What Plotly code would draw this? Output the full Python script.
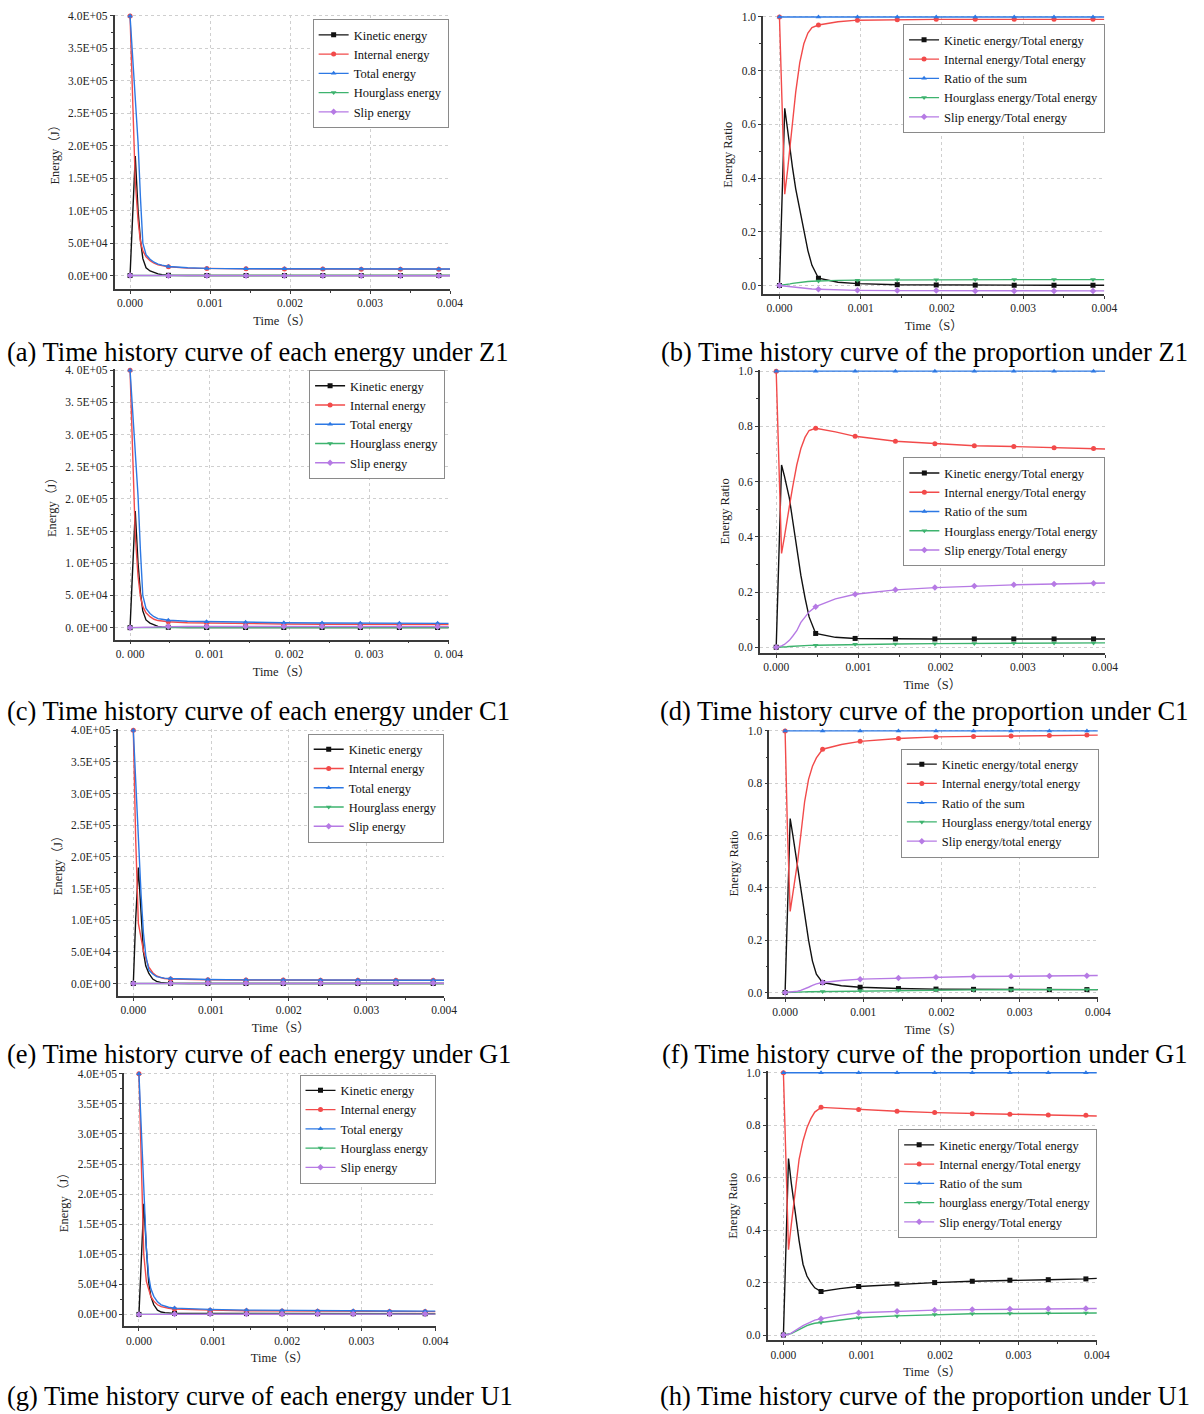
import plotly.graph_objects as go

W, H = 1204, 1414

# ---------------- data ----------------
time_s = [0, 0.00003, 0.000065, 0.0001, 0.00013, 0.00016, 0.0002, 0.00025, 0.0003, 0.00035,
          0.0004, 0.00048, 0.00072, 0.00096, 0.00145, 0.00193, 0.00241, 0.00289, 0.00338,
          0.00386, 0.004]
marker_idx = [0, 11, 13, 14, 15, 16, 17, 18, 19]

x_ticks = [0, 0.001, 0.002, 0.003, 0.004]
x_labels = ["0.000", "0.001", "0.002", "0.003", "0.004"]
x_labels_sp = ["0. 000", "0. 001", "0. 002", "0. 003", "0. 004"]
e_ticks = [0, 5e4, 1e5, 1.5e5, 2e5, 2.5e5, 3e5, 3.5e5, 4e5]
e_labels = ["0.0E+00", "5.0E+04", "1.0E+05", "1.5E+05", "2.0E+05", "2.5E+05", "3.0E+05", "3.5E+05", "4.0E+05"]
e_labels_sp = ["0. 0E+00", "5. 0E+04", "1. 0E+05", "1. 5E+05", "2. 0E+05", "2. 5E+05", "3. 0E+05", "3. 5E+05", "4. 0E+05"]
r_ticks = [0, 0.2, 0.4, 0.6, 0.8, 1.0]
r_labels = ["0.0", "0.2", "0.4", "0.6", "0.8", "1.0"]

energy_names = ["Kinetic energy", "Internal energy", "Total energy", "Hourglass energy", "Slip energy"]
ratio_names_b = ["Kinetic energy/Total energy", "Internal energy/Total energy", "Ratio of the sum",
                 "Hourglass energy/Total energy", "Slip energy/Total energy"]
ratio_names_f = ["Kinetic energy/total energy", "Internal energy/total energy", "Ratio of the sum",
                 "Hourglass energy/total energy", "Slip energy/total energy"]
ratio_names_h = ["Kinetic energy/Total energy", "Internal energy/Total energy", "Ratio of the sum",
                 "hourglass energy/Total energy", "Slip energy/Total energy"]

# (a) Z1 energy
z1_kinetic = [0, 8.5e4, 1.84e5, 1.0e5, 5.5e4, 2.6e4, 1.2e4, 7e3, 4.5e3, 2.5e3, 1.2e3, 400, 150, 80, 40, 20, 15, 10, 10, 10, 10]
z1_internal = [4e5, 2.65e5, 1.45e5, 8.5e4, 5.2e4, 3.8e4, 2.9e4, 2.3e4, 1.9e4, 1.65e4, 1.5e4, 1.35e4, 1.15e4, 1.08e4, 1.03e4, 1.01e4, 1.0e4, 9.9e3, 9.9e3, 9.9e3, 9.9e3]
z1_total = [4e5, 3.4e5, 2.7e5, 2.05e5, 1.2e5, 5e4, 3.2e4, 2.5e4, 2.05e4, 1.75e4, 1.6e4, 1.4e4, 1.2e4, 1.1e4, 1.05e4, 1.03e4, 1.02e4, 1.01e4, 1.0e4, 1.0e4, 1.0e4]
z1_hourglass = [0, 0, 0, 5, 10, 20, 35, 60, 90, 120, 150, 200, 210, 215, 220, 220, 220, 225, 225, 225, 225]
z1_slip = [0, 0, 0, -5, -10, -20, -35, -60, -90, -110, -130, -150, -170, -180, -190, -190, -195, -195, -200, -200, -200]

# (b) Z1 ratio
z1_r_kinetic = [0, 0.3, 0.66, 0.58, 0.5, 0.44, 0.36, 0.28, 0.2, 0.13, 0.075, 0.027, 0.012, 0.007, 0.003, 0.002, 0.0015, 0.001, 0.001, 0.001, 0.001]
z1_r_internal = [1.0, 0.68, 0.34, 0.43, 0.52, 0.6, 0.72, 0.83, 0.9, 0.94, 0.96, 0.97, 0.982, 0.988, 0.99, 0.991, 0.991, 0.991, 0.991, 0.991, 0.991]
z1_r_sum = [1.0] * 21
z1_r_hourglass = [0, 0.001, 0.002, 0.004, 0.006, 0.008, 0.01, 0.012, 0.014, 0.015, 0.016, 0.017, 0.019, 0.02, 0.021, 0.021, 0.022, 0.022, 0.022, 0.022, 0.022]
z1_r_slip = [0, -0.001, -0.002, -0.003, -0.004, -0.005, -0.007, -0.009, -0.011, -0.012, -0.013, -0.014, -0.016, -0.018, -0.019, -0.019, -0.02, -0.02, -0.02, -0.02, -0.02]

# (c) C1 energy
c1_kinetic = [0, 8.5e4, 1.81e5, 1.0e5, 5.5e4, 2.6e4, 1.2e4, 7e3, 4e3, 2e3, 1e3, 550, 300, 280, 240, 220, 210, 200, 200, 200, 200]
c1_internal = [4e5, 2.65e5, 1.45e5, 8e4, 4.8e4, 3.3e4, 2.3e4, 1.7e4, 1.3e4, 1.1e4, 1.0e4, 9.1e3, 7.6e3, 7.1e3, 6.1e3, 5.6e3, 5.3e3, 5.1e3, 4.9e3, 4.8e3, 4.7e3]
c1_total = [4e5, 3.4e5, 2.7e5, 2.05e5, 1.2e5, 5e4, 3e4, 2.2e4, 1.7e4, 1.4e4, 1.3e4, 1.15e4, 1.0e4, 9.3e3, 8.2e3, 7.6e3, 7.2e3, 7.0e3, 6.8e3, 6.7e3, 6.6e3]
c1_hourglass = [0, 0, 0, 0, 5, 10, 15, 25, 35, 45, 55, 80, 95, 105, 110, 115, 115, 115, 115, 115, 115]
c1_slip = [0, 0, 0, 10, 50, 150, 300, 600, 900, 1200, 1400, 1700, 1750, 1800, 1700, 1650, 1600, 1580, 1560, 1550, 1540]

# (d) C1 ratio
c1_r_kinetic = [0, 0.3, 0.66, 0.62, 0.58, 0.54, 0.46, 0.36, 0.26, 0.18, 0.11, 0.05, 0.036, 0.032, 0.03, 0.03, 0.03, 0.03, 0.03, 0.03, 0.03]
c1_r_internal = [1.0, 0.67, 0.34, 0.4, 0.46, 0.51, 0.58, 0.66, 0.72, 0.76, 0.785, 0.793, 0.78, 0.764, 0.746, 0.737, 0.73, 0.727, 0.723, 0.72, 0.718]
c1_r_sum = [1.0] * 21
c1_r_hourglass = [0, 0, 0.0005, 0.001, 0.002, 0.003, 0.004, 0.005, 0.006, 0.0065, 0.007, 0.0075, 0.009, 0.011, 0.012, 0.013, 0.014, 0.0145, 0.015, 0.0155, 0.016]
c1_r_slip = [0, 0.002, 0.005, 0.01, 0.016, 0.025, 0.04, 0.06, 0.09, 0.11, 0.128, 0.147, 0.175, 0.192, 0.208, 0.216, 0.222, 0.226, 0.229, 0.232, 0.233]

# (e) G1 energy
g1_kinetic = [0, 1.0e5, 1.83e5, 1.0e5, 5e4, 2.8e4, 1.6e4, 7e3, 3.5e3, 1.8e3, 900, 280, 150, 110, 80, 70, 65, 60, 55, 55, 55]
g1_internal = [4e5, 2.3e5, 9.5e4, 6.8e4, 5.2e4, 4e4, 2.6e4, 1.7e4, 1.2e4, 9.5e3, 8e3, 7e3, 6.3e3, 6e3, 5.65e3, 5.45e3, 5.35e3, 5.28e3, 5.2e3, 5.15e3, 5.1e3]
g1_total = [4e5, 3.2e5, 2.35e5, 1.4e5, 8e4, 4.5e4, 2.1e4, 1.5e4, 1.1e4, 9.5e3, 8.5e3, 7.9e3, 6.9e3, 6.3e3, 5.8e3, 5.6e3, 5.5e3, 5.4e3, 5.3e3, 5.25e3, 5.2e3]
g1_hourglass = [0, 0, 0, 0, 5, 10, 15, 20, 25, 28, 30, 32, 38, 44, 50, 53, 55, 57, 58, 58, 58]
g1_slip = [0, 0, 0, 10, 20, 40, 80, 150, 220, 260, 280, 300, 310, 320, 320, 325, 330, 335, 335, 338, 340]

# (f) G1 ratio
g1_r_kinetic = [0, 0.33, 0.665, 0.6, 0.54, 0.48, 0.4, 0.3, 0.2, 0.12, 0.07, 0.038, 0.026, 0.02, 0.015, 0.013, 0.012, 0.012, 0.011, 0.011, 0.011]
g1_r_internal = [1.0, 0.62, 0.31, 0.38, 0.44, 0.5, 0.6, 0.73, 0.815, 0.865, 0.897, 0.93, 0.948, 0.96, 0.971, 0.977, 0.979, 0.981, 0.982, 0.984, 0.984]
g1_r_sum = [1.0] * 21
g1_r_hourglass = [0, 0, 0, 0.0005, 0.001, 0.0015, 0.002, 0.0025, 0.003, 0.0032, 0.0035, 0.004, 0.0055, 0.007, 0.0085, 0.0095, 0.01, 0.0105, 0.011, 0.011, 0.011]
g1_r_slip = [0, 0.0005, 0.001, 0.002, 0.003, 0.005, 0.008, 0.013, 0.02, 0.027, 0.033, 0.038, 0.046, 0.051, 0.055, 0.058, 0.061, 0.062, 0.063, 0.064, 0.065]

# (g) U1 energy
u1_kinetic = [0, 9e4, 1.84e5, 1.1e5, 5.5e4, 3e4, 1.6e4, 7e3, 4e3, 2.9e3, 2.3e3, 1.75e3, 1.65e3, 1.55e3, 1.4e3, 1.3e3, 1.25e3, 1.22e3, 1.2e3, 1.18e3, 1.18e3]
u1_internal = [4e5, 2.6e5, 1.0e5, 5.5e4, 4e4, 3e4, 2.2e4, 1.6e4, 1.3e4, 1.15e4, 1.03e4, 9.1e3, 7.8e3, 7.1e3, 6.1e3, 5.6e3, 5.2e3, 4.95e3, 4.8e3, 4.65e3, 4.6e3]
u1_total = [4e5, 3.1e5, 1.9e5, 1.1e5, 6.5e4, 4.3e4, 3e4, 2.1e4, 1.6e4, 1.35e4, 1.2e4, 1.05e4, 9e3, 8.3e3, 7.2e3, 6.6e3, 6.2e3, 5.9e3, 5.7e3, 5.55e3, 5.5e3]
u1_hourglass = [0, 0, 100, 400, 600, 700, 800, 800, 750, 650, 560, 500, 480, 550, 530, 510, 490, 480, 470, 465, 460]
u1_slip = [0, 0, 100, 500, 800, 900, 1000, 1000, 900, 750, 650, 650, 700, 700, 650, 620, 600, 580, 570, 560, 555]

# (h) U1 ratio
u1_r_kinetic = [0, 0.32, 0.673, 0.58, 0.51, 0.44, 0.36, 0.27, 0.225, 0.2, 0.18, 0.166, 0.177, 0.185, 0.194, 0.2, 0.205, 0.209, 0.211, 0.214, 0.216]
u1_r_internal = [1.0, 0.65, 0.325, 0.42, 0.5, 0.58, 0.67, 0.74, 0.79, 0.825, 0.85, 0.868, 0.864, 0.86, 0.853, 0.848, 0.844, 0.842, 0.839, 0.838, 0.835]
u1_r_sum = [1.0] * 21
u1_r_hourglass = [0, 0.001, 0.003, 0.006, 0.01, 0.015, 0.022, 0.03, 0.036, 0.041, 0.045, 0.048, 0.058, 0.066, 0.073, 0.078, 0.081, 0.082, 0.084, 0.084, 0.084]
u1_r_slip = [0, 0.001, 0.003, 0.007, 0.012, 0.018, 0.026, 0.036, 0.044, 0.051, 0.057, 0.062, 0.075, 0.085, 0.091, 0.095, 0.097, 0.099, 0.1, 0.101, 0.101]

captions = ["(a) Time history curve of each energy under Z1",
            "(b) Time history curve of the proportion under Z1",
            "(c) Time history curve of each energy under C1",
            "(d) Time history curve of the proportion under C1",
            "(e) Time history curve of each energy under G1",
            "(f) Time history curve of the proportion under G1",
            "(g) Time history curve of each energy under U1",
            "(h) Time history curve of the proportion under U1"]

# ---------------- styling / layout ----------------
COLORS = ["#111111", "#F24A4A", "#2C78E4", "#3DB36E", "#B67AE4"]
SYMBOLS = ["square", "circle", "triangle-up", "triangle-down", "diamond"]
SERIF = "Liberation Serif, Times New Roman, Noto Sans CJK SC, serif"


def marker_colors(c):
    return [c if i in marker_idx else "rgba(0,0,0,0)" for i in range(len(time_s))]


panels = [
    dict(series=[z1_kinetic, z1_internal, z1_total, z1_hourglass, z1_slip], names=energy_names, kind="e",
         xl=x_labels, yl=e_labels, px=(116, 131.7, 455.7), py=(11, 271.7, 285), leg=(454.3, 14.3),
         cap=(5, 348)),
    dict(series=[z1_r_kinetic, z1_r_internal, z1_r_sum, z1_r_hourglass, z1_r_slip], names=ratio_names_b, kind="r",
         xl=x_labels, yl=r_labels, px=(772.7, 789.3, 1118.3), py=(12, 281.7, 290), leg=(1119, 19.3),
         cap=(667, 348)),
    dict(series=[c1_kinetic, c1_internal, c1_total, c1_hourglass, c1_slip], names=energy_names, kind="e",
         xl=x_labels_sp, yl=e_labels_sp, px=(116, 131.7, 454.4), py=(366.7, 625.3, 637.3), leg=(450.7, 366.7),
         cap=(5, 709)),
    dict(series=[c1_r_kinetic, c1_r_internal, c1_r_sum, c1_r_hourglass, c1_r_slip], names=ratio_names_b, kind="r",
         xl=x_labels, yl=r_labels, px=(769.3, 786, 1119), py=(367.7, 645, 650.7), leg=(1119.3, 454.3),
         cap=(666, 709)),
    dict(series=[g1_kinetic, g1_internal, g1_total, g1_hourglass, g1_slip], names=energy_names, kind="e",
         xl=x_labels, yl=e_labels, px=(119, 135, 449.7), py=(728.3, 982.7, 995), leg=(449.3, 731.7),
         cap=(5, 1053)),
    dict(series=[g1_r_kinetic, g1_r_internal, g1_r_sum, g1_r_hourglass, g1_r_slip], names=ratio_names_f, kind="r",
         xl=x_labels, yl=r_labels, px=(779, 795, 1111.7), py=(729, 991.7, 996.7), leg=(1112.7, 746.7),
         cap=(668, 1053)),
    dict(series=[u1_kinetic, u1_internal, u1_total, u1_hourglass, u1_slip], names=energy_names, kind="e",
         xl=x_labels, yl=e_labels, px=(125.7, 140.7, 441), py=(1073.3, 1315, 1326.7), leg=(441, 1074.3),
         cap=(5, 1397)),
    dict(series=[u1_r_kinetic, u1_r_internal, u1_r_sum, u1_r_hourglass, u1_r_slip], names=ratio_names_h, kind="r",
         xl=x_labels, yl=r_labels, px=(777.3, 793.3, 1110.7), py=(1072.3, 1335.7, 1340.7), leg=(1111, 1129),
         cap=(666, 1397)),
]

fig = go.Figure()
layout = dict(width=W, height=H, margin=dict(l=0, r=0, t=0, b=0), paper_bgcolor="white",
              plot_bgcolor="white", showlegend=True, annotations=[])

for i, p in enumerate(panels, start=1):
    xa = "x" if i == 1 else f"x{i}"
    ya = "y" if i == 1 else f"y{i}"
    lg = "legend" if i == 1 else f"legend{i}"
    for k in range(5):
        fig.add_trace(go.Scatter(
            x=time_s, y=p["series"][k], name=p["names"][k], mode="lines+markers",
            line=dict(color=COLORS[k], width=1.4),
            marker=dict(symbol=SYMBOLS[k], size=5, color=marker_colors(COLORS[k]), line=dict(width=0)),
            xaxis=xa, yaxis=ya, legend=lg, cliponaxis=False))

    # axis geometry from pixel positions
    xleft, x0, x4 = p["px"]
    sx = (x4 - x0) / 0.004
    xmin = -(x0 - xleft) / sx
    ytop_px, y0_px, ybot_px = p["py"]
    if p["kind"] == "e":
        ytop_val, ymax = 4e5, 4.02e5
        yt, ttl, mdt = e_ticks, "Energy（J）", 2.5e4
    else:
        ytop_val, ymax = 1.0, 1.005
        yt, ttl, mdt = r_ticks, "Energy Ratio", 0.1
    sy = (y0_px - ytop_px) / ytop_val
    ymin = -(ybot_px - y0_px) / sy
    dom_top = y0_px - ymax * sy

    axis_common = dict(showline=True, linecolor="#3a3a3a", linewidth=1.5, ticks="outside",
                       ticklen=3, tickwidth=1.2, tickcolor="#3a3a3a", showgrid=True,
                       gridcolor="#cfcfcf", griddash="dot", gridwidth=1, zeroline=False,
                       tickfont=dict(family=SERIF, size=11.5, color="#222"), mirror=False)
    layout["xaxis" if i == 1 else f"xaxis{i}"] = dict(
        axis_common, domain=[xleft / W, x4 / W], range=[xmin, 0.004], anchor=ya,
        tickmode="array", tickvals=x_ticks, ticktext=p["xl"],
        minor=dict(dtick=0.0005, tick0=0, ticks="outside", ticklen=2, tickcolor="#3a3a3a", showgrid=False),
        title=dict(text="Time（S）", font=dict(family=SERIF, size=12.5, color="#222"), standoff=8))
    layout["yaxis" if i == 1 else f"yaxis{i}"] = dict(
        axis_common, domain=[1 - ybot_px / H, 1 - dom_top / H], range=[ymin, ymax], anchor=xa,
        tickmode="array", tickvals=yt, ticktext=p["yl"],
        minor=dict(dtick=mdt, tick0=0, ticks="outside", ticklen=2, tickcolor="#3a3a3a", showgrid=False),
        title=dict(text=ttl, font=dict(family=SERIF, size=12.5, color="#222"), standoff=6))
    layout[lg] = dict(x=p["leg"][0] / W, y=1 - p["leg"][1] / H, xanchor="right", yanchor="top",
                      bgcolor="white", bordercolor="#8a8a8a", borderwidth=1,
                      font=dict(family=SERIF, size=12.5, color="#111"), itemwidth=30,
                      tracegroupgap=0, traceorder="normal")
    layout["annotations"].append(dict(
        text=captions[i - 1], x=p["cap"][0] / W, y=1 - p["cap"][1] / H, xref="paper", yref="paper",
        xanchor="left", yanchor="middle", showarrow=False,
        font=dict(family=SERIF, size=26.5, color="#000")))

fig.update_layout(**layout)
fig.write_html("out.html")
